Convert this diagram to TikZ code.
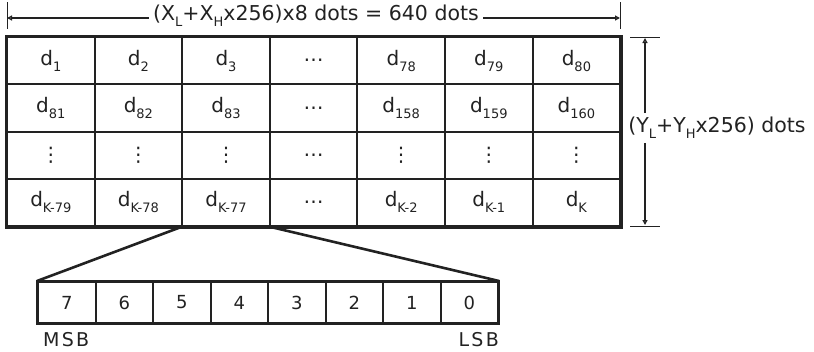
\documentclass[tikz,border=0pt]{standalone}
\usepackage{fontspec}
\setmainfont{DejaVu Sans}
\newfontfamily\lblfont{DejaVu Sans}[LetterSpace=12]
\usetikzlibrary{arrows.meta}
\definecolor{ink}{HTML}{222222}
\newcommand\sbs[1]{\raisebox{-6pt}{\fontsize{13}{13}\selectfont #1}}
\newcommand\dd[1]{d\sbs{#1}}
\begin{document}
\begin{tikzpicture}[x=1pt,y=-1pt,
  cell/.style={draw=ink,line width=2pt,minimum width=87.6pt,minimum height=47.25pt,inner sep=0pt,
    font=\fontsize{20}{20}\selectfont,text=ink},
  bit/.style={draw=ink,line width=2pt,minimum width=57.5pt,minimum height=41pt,inner sep=0pt,
    font=\fontsize{18}{18}\selectfont,text=ink},
  dimtxt/.style={font=\fontsize{20.5}{20.5}\selectfont,text=ink,inner sep=4pt},
  dimline/.style={draw=ink,line width=1.6pt,-{Triangle[open,length=5pt,width=5pt]}},
  tick/.style={draw=ink,line width=0.8pt},
  lbl/.style={font=\lblfont\fontsize{19}{19}\selectfont,text=ink,inner sep=0pt}]
\useasboundingbox (0,0) rectangle (814,351);
% grid cells
\def\cx#1{7+87.6*(#1-0.5)}
\def\cy#1{37+47.25*(#1-0.5)}
\node[cell] (c11) at ({\cx1},{\cy1}) {\dd{1}};
\node[cell] (c12) at ({\cx2},{\cy1}) {\dd{2}};
\node[cell] (c13) at ({\cx3},{\cy1}) {\dd{3}};
\node[cell] (c14) at ({\cx4},{\cy1}) {…};
\node[cell] (c15) at ({\cx5},{\cy1}) {\dd{78}};
\node[cell] (c16) at ({\cx6},{\cy1}) {\dd{79}};
\node[cell] (c17) at ({\cx7},{\cy1}) {\dd{80}};
\node[cell] (c21) at ({\cx1},{\cy2}) {\dd{81}};
\node[cell] (c22) at ({\cx2},{\cy2}) {\dd{82}};
\node[cell] (c23) at ({\cx3},{\cy2}) {\dd{83}};
\node[cell] (c24) at ({\cx4},{\cy2}) {…};
\node[cell] (c25) at ({\cx5},{\cy2}) {\dd{158}};
\node[cell] (c26) at ({\cx6},{\cy2}) {\dd{159}};
\node[cell] (c27) at ({\cx7},{\cy2}) {\dd{160}};
\node[cell] (c31) at ({\cx1},{\cy3}) {⋮};
\node[cell] (c32) at ({\cx2},{\cy3}) {⋮};
\node[cell] (c33) at ({\cx3},{\cy3}) {⋮};
\node[cell] (c34) at ({\cx4},{\cy3}) {…};
\node[cell] (c35) at ({\cx5},{\cy3}) {⋮};
\node[cell] (c36) at ({\cx6},{\cy3}) {⋮};
\node[cell] (c37) at ({\cx7},{\cy3}) {⋮};
\node[cell] (c41) at ({\cx1},{\cy4}) {\dd{K-79}};
\node[cell] (c42) at ({\cx2},{\cy4}) {\dd{K-78}};
\node[cell] (c43) at ({\cx3},{\cy4}) {\dd{K-77}};
\node[cell] (c44) at ({\cx4},{\cy4}) {…};
\node[cell] (c45) at ({\cx5},{\cy4}) {\dd{K-2}};
\node[cell] (c46) at ({\cx6},{\cy4}) {\dd{K-1}};
\node[cell] (c47) at ({\cx7},{\cy4}) {\dd{K}};
\draw[ink,line width=3pt] (c11.north west) rectangle (c47.south east);
% top dimension
\coordinate (tl) at (7,18);
\coordinate (tr) at (620,18);
\draw[tick] (7,2) -- (7,29);
\draw[tick] (620,2) -- (620,29);
\node[dimtxt] (tt) at (316,16) {(X\sbs{L}+X\sbs{H}x256)x8 dots = 640 dots};
\draw[dimline] (tt.west |- tl) -- (tl);
\draw[dimline] (tt.east |- tr) -- (tr);
% right dimension
\coordinate (rt) at (645,38);
\coordinate (rb) at (645,225);
\draw[tick] (630,37) -- (660,37);
\draw[tick] (630,226) -- (660,226);
\node[dimtxt] (yt) at (717,128) {(Y\sbs{L}+Y\sbs{H}x256) dots};
\draw[dimline] (yt.north -| rt) -- (rt);
\draw[dimline] (yt.south -| rb) -- (rb);
% bit box
\def\bx#1{38+57.5*(#1+0.5)}
\node[bit] (b7) at ({\bx0},302.5) {7};
\node[bit] (b6) at ({\bx1},302.5) {6};
\node[bit] (b5) at ({\bx2},302.5) {5};
\node[bit] (b4) at ({\bx3},302.5) {4};
\node[bit] (b3) at ({\bx4},302.5) {3};
\node[bit] (b2) at ({\bx5},302.5) {2};
\node[bit] (b1) at ({\bx6},302.5) {1};
\node[bit] (b0) at ({\bx7},302.5) {0};
\draw[ink,line width=2.6pt] (b7.north west) rectangle (b0.south east);
\draw[ink,line width=2.6pt] (c43.south west) -- (b7.north west);
\draw[ink,line width=2.6pt] (c43.south east) -- (b0.north east);
\node[lbl,anchor=north west] (msb) at (43,332) {MSB};
\node[lbl,anchor=north east] (lsb) at (499,332) {LSB};
\end{tikzpicture}
\end{document}
